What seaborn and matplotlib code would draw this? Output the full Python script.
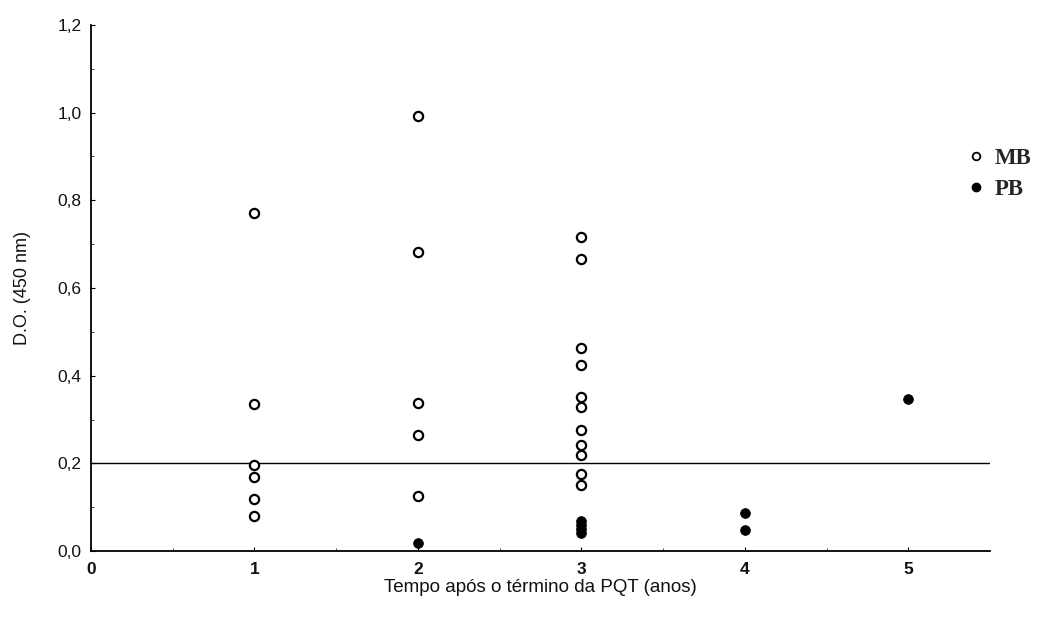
import matplotlib
matplotlib.use("Agg")
import matplotlib.pyplot as plt
import seaborn as sns
import pandas as pd
from matplotlib.lines import Line2D

# Data
mb_tempo = [1, 1, 1, 1, 1, 1,
            2, 2, 2, 2, 2,
            3, 3, 3, 3, 3, 3, 3, 3, 3, 3, 3]
mb_do = [0.77, 0.335, 0.196, 0.169, 0.119, 0.080,
         0.992, 0.682, 0.337, 0.265, 0.125,
         0.716, 0.666, 0.463, 0.424, 0.351, 0.328, 0.276, 0.242, 0.219, 0.176, 0.150]
pb_tempo = [2, 3, 3, 3, 3, 4, 4, 5]
pb_do = [0.018, 0.068, 0.060, 0.050, 0.042, 0.087, 0.048, 0.347]
cutoff = 0.2

x_ticks = [0, 1, 2, 3, 4, 5]
y_ticks = [0.0, 0.2, 0.4, 0.6, 0.8, 1.0, 1.2]
y_ticklabels = ["0,0", "0,2", "0,4", "0,6", "0,8", "1,0", "1,2"]
groups = ["MB", "PB"]

df = pd.DataFrame({
    "tempo": mb_tempo + pb_tempo,
    "do": mb_do + pb_do,
    "grupo": [groups[0]] * len(mb_tempo) + [groups[1]] * len(pb_tempo),
})

sns.set_theme(style="white")
plt.rcParams["font.family"] = ["Liberation Sans", "DejaVu Sans"]

fig = plt.figure(figsize=(10.42, 6.19), dpi=100)
ax = fig.add_axes([91 / 1042, 1 - 551 / 619, (990 - 91) / 1042, (551 - 25) / 619])

sns.scatterplot(data=df[df.grupo == "MB"], x="tempo", y="do", ax=ax,
                marker="o", s=44, color="white", edgecolor="black",
                linewidth=1.6, zorder=3, legend=False)
sns.scatterplot(data=df[df.grupo == "PB"], x="tempo", y="do", ax=ax,
                marker="o", s=50, color="black", edgecolor="black",
                linewidth=0.5, zorder=3, legend=False)

ax.axhline(cutoff, color="black", linewidth=1.0, zorder=2)

ax.set_xlim(0, 5.5)
ax.set_ylim(0, 1.2)
ax.set_xticks(x_ticks)
ax.set_xticklabels([str(t) for t in x_ticks], fontsize=12.5, fontweight="bold")
ax.set_yticks(y_ticks)
ax.set_yticklabels(y_ticklabels, fontsize=12.5)
ax.tick_params(axis="both", direction="in", length=3, width=0.8, color="black",
               left=True, bottom=True, labelcolor="#111111")
ax.tick_params(axis="y", pad=7)
ax.tick_params(axis="x", pad=8)
ax.set_xticks([0.5, 1.5, 2.5, 3.5, 4.5], minor=True)
ax.set_yticks([0.1, 0.3, 0.5, 0.7, 0.9, 1.1], minor=True)
ax.tick_params(which="minor", direction="in", length=2, width=0.6, left=True, bottom=True)

for s in ["top", "right"]:
    ax.spines[s].set_visible(False)
for s in ["left", "bottom"]:
    ax.spines[s].set_color("black")
    ax.spines[s].set_linewidth(1.3)

ax.set_xlabel("Tempo após o término da PQT (anos)", fontsize=13.5, color="#111111", labelpad=1)
ax.set_ylabel("D.O. (450 nm)", fontsize=13, color="#111111", labelpad=19)

handles = [
    Line2D([], [], linestyle="none", marker="o", markersize=5.5, markerfacecolor="white",
           markeredgecolor="black", markeredgewidth=1.3, label=groups[0]),
    Line2D([], [], linestyle="none", marker="o", markersize=6, markerfacecolor="black",
           markeredgecolor="black", label=groups[1]),
]
fig.legend(handles=handles, loc="upper left", bbox_to_anchor=(965 / 1042, 1 - 148 / 619),
           frameon=False, borderpad=0, borderaxespad=0, handletextpad=0.3,
           labelspacing=0.45, handlelength=1.0,
           prop={"family": "Liberation Serif", "weight": "bold", "size": 16.5})

fig.savefig("out.png", dpi=100)
